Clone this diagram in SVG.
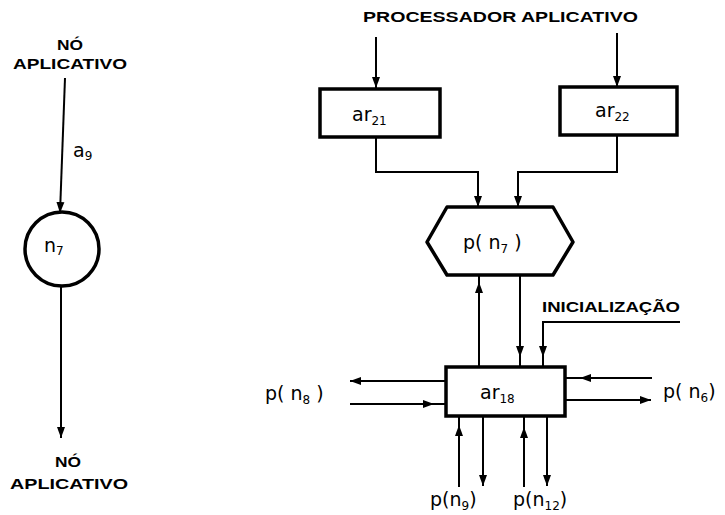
<svg xmlns="http://www.w3.org/2000/svg" width="725" height="515" viewBox="0 0 725 515">
<style>
.cap{font-family:"Liberation Sans",Arial,sans-serif;font-weight:bold;font-size:14px;fill:#000}
.lbl{font-family:"DejaVu Sans","Liberation Sans",sans-serif;font-size:19px;fill:#000}
.sub{font-size:12px}
.box{fill:#fff;stroke:#000;stroke-width:3.5}
.ln{fill:none;stroke:#000;stroke-width:2}
.a{marker-end:url(#ah)}
.m{marker-mid:url(#ah)}
</style>
<defs>
<marker id="ah" markerUnits="userSpaceOnUse" markerWidth="12" markerHeight="10" refX="11" refY="4" orient="auto" viewBox="0 0 12 8">
<path d="M0,0 L11,4 L0,8 z" fill="#000"/>
</marker>
</defs>
<rect width="725" height="515" fill="#fff"/>

<g id="connectors">
<path class="ln a" d="M65,78 L60,213"/>
<path class="ln a" d="M61,287 L61,438"/>
<path class="ln a" d="M376,37 L376,88"/>
<path class="ln a" d="M617,33 L617,87"/>
<path class="ln a" d="M376,137 L376,172 L478,172 L478,207"/>
<path class="ln a" d="M617,135 L617,172 L518,172 L518,207"/>
<path class="ln m" d="M479,367 L479,282 L479,275"/>
<path class="ln m" d="M520,275 L520,357 L520,367"/>
<path class="ln" d="M680,322 L543,322 L543,367"/>
<path class="ln a" d="M543,340 L543,357"/>
<path class="ln a" d="M445,381 L350,381"/>
<path class="ln m" d="M350,404 L434,404 L445,404"/>
<path class="ln m" d="M652,378 L580,378 L565,378"/>
<path class="ln a" d="M565,400 L651,400"/>
<path class="ln m" d="M459,487 L459,425 L459,417"/>
<path class="ln a" d="M483,417 L483,486"/>
<path class="ln m" d="M524,487 L524,427 L524,417"/>
<path class="ln a" d="M547,417 L547,486"/>
</g>

<g id="no-aplicativo-top">
<text class="cap" x="70" y="50" text-anchor="middle" textLength="26" lengthAdjust="spacingAndGlyphs">NÓ</text>
<text class="cap" x="13" y="69" textLength="114" lengthAdjust="spacingAndGlyphs">APLICATIVO</text>
</g>
<g id="label-a9">
<text class="lbl" x="73" y="157">a<tspan class="sub" dy="3">9</tspan></text>
</g>
<g id="n7">
<circle cx="62" cy="249" r="37" fill="#fff" stroke="#000" stroke-width="3.5"/>
<text class="lbl" x="44" y="252">n<tspan class="sub" dy="3">7</tspan></text>
</g>
<g id="no-aplicativo-bottom">
<text class="cap" x="68" y="467" text-anchor="middle" textLength="26" lengthAdjust="spacingAndGlyphs">NÓ</text>
<text class="cap" x="10" y="489" textLength="118" lengthAdjust="spacingAndGlyphs">APLICATIVO</text>
</g>

<g id="processador">
<text class="cap" x="363" y="22" textLength="275" lengthAdjust="spacingAndGlyphs">PROCESSADOR APLICATIVO</text>
</g>
<g id="ar21">
<rect class="box" x="320" y="89" width="120" height="48"/>
<text class="lbl" x="352" y="121">ar<tspan class="sub" dy="4">21</tspan></text>
</g>
<g id="ar22">
<rect class="box" x="560" y="87" width="117" height="48"/>
<text class="lbl" x="595" y="117">ar<tspan class="sub" dy="4">22</tspan></text>
</g>
<g id="p-n7">
<path class="box" d="M447,207 L553,207 L573,242 L553,275 L447,275 L427,242 Z" stroke-linejoin="round"/>
<text class="lbl" x="463" y="249">p( n<tspan class="sub" dy="4">7</tspan><tspan dy="-4"> )</tspan></text>
</g>
<g id="inicializacao">
<text class="cap" x="542" y="312" textLength="138" lengthAdjust="spacingAndGlyphs">INICIALIZAÇÃO</text>
</g>
<g id="ar18">
<rect class="box" x="446" y="367" width="119" height="49"/>
<text class="lbl" x="480" y="399">ar<tspan class="sub" dy="4">18</tspan></text>
</g>
<g id="p-n8">
<text class="lbl" x="265" y="400">p( n<tspan class="sub" dy="4">8</tspan><tspan dy="-4"> )</tspan></text>
</g>
<g id="p-n6">
<text class="lbl" x="663" y="398">p( n<tspan class="sub" dy="4">6</tspan><tspan dy="-4">)</tspan></text>
</g>
<g id="p-n9">
<text class="lbl" x="430" y="506">p(n<tspan class="sub" dy="4">9</tspan><tspan dy="-4">)</tspan></text>
</g>
<g id="p-n12">
<text class="lbl" x="513" y="506">p(n<tspan class="sub" dy="4">12</tspan><tspan dy="-4">)</tspan></text>
</g>
</svg>
